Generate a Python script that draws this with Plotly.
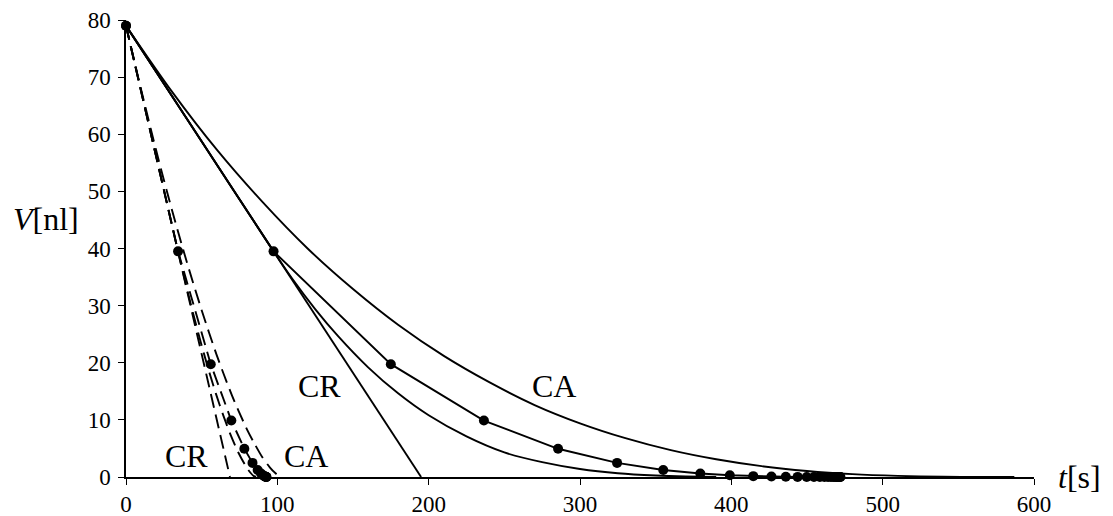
import plotly.graph_objects as go

# --- constant-area-flux model (solid lines) ---
cr_t = [0, 195]
cr_v = [79.0, 0.0]

ca_t = [0, 30, 60, 90, 120, 150, 180, 210, 240, 270, 300, 330, 360, 390, 420, 450, 480, 510, 540, 565, 587]
ca_v = [79.0, 67.6, 57.3, 48.2, 40.0, 32.9, 26.6, 21.2, 16.6, 12.6, 9.4, 6.8, 4.7, 3.1, 1.9, 1.05, 0.5, 0.2, 0.05, 0.01, 0.0]

mix_t = [0, 48.75, 97.5, 110, 125, 140, 160, 180, 200, 225, 250, 275, 300, 325, 350, 370, 390]
mix_v = [79.0, 59.25, 39.5, 34.65, 29.4, 24.7, 19.2, 14.6, 10.8, 7.1, 4.3, 2.6, 1.4, 0.65, 0.25, 0.08, 0.0]

ss_t = [0, 97.5, 175.0, 236.5, 285.5, 324.5, 355.0, 379.5, 399.0, 414.5, 426.5, 436.0, 443.8, 449.8, 454.6, 458.5, 461.5, 463.9, 465.8, 467.3, 468.5, 469.5, 470.3, 470.9, 471.4, 471.8, 472.1]
ss_v = [79.0, 39.5, 19.75, 9.88, 4.94, 2.47, 1.23, 0.62, 0.31, 0.15, 0.08, 0.04, 0.02, 0.01, 0.005, 0.002, 0.001, 0, 0, 0, 0, 0, 0, 0, 0, 0, 0]

# --- diffusion-limited model (dashed lines) ---
dcr_t = [0, 68.7]
dcr_v = [79.0, 0.0]

dca_t = [0, 10, 20, 30, 40, 50, 60, 70, 80, 85, 90, 95, 99, 101, 103]
dca_v = [79.0, 67.8, 57.1, 47.1, 37.8, 29.2, 21.3, 14.3, 8.3, 5.8, 3.5, 1.7, 0.6, 0.2, 0.0]

dmix_t = [0, 17.2, 34.4, 39.4, 44.4, 49.4, 54.4, 59.4, 64.4, 69.4, 74.4, 79.4, 82.4, 84.5, 85.9]
dmix_v = [79.0, 59.25, 39.5, 33.9, 28.6, 23.6, 18.9, 14.6, 10.7, 7.2, 4.2, 1.8, 0.7, 0.15, 0.0]

dss_t = [0, 34.4, 56.0, 69.6, 78.2, 83.6, 87.0, 89.2, 90.5, 91.4, 91.9, 92.3, 92.5, 92.7, 92.8]
dss_v = [79.0, 39.5, 19.75, 9.88, 4.94, 2.47, 1.23, 0.62, 0.31, 0.15, 0.08, 0.04, 0.02, 0.01, 0.0]

x_ticks = [0, 100, 200, 300, 400, 500, 600]
y_ticks = [0, 10, 20, 30, 40, 50, 60, 70, 80]

# annotation positions (data units)
labels = [("CR", 128, 16.0), ("CA", 283, 16.0), ("CR", 40, 3.6), ("CA", 119, 3.6)]

SERIF = "Liberation Serif"
BLACK = "black"
DASH = "14px,7px"
LW = 1.9

fig = go.Figure()


def curve(t, v, dash="solid", markers=False, shape="spline"):
    fig.add_trace(go.Scatter(
        x=t, y=v,
        mode="lines+markers" if markers else "lines",
        line=dict(color=BLACK, width=LW, dash=dash, shape=shape, smoothing=0.8 if shape == "spline" else None),
        marker=dict(color=BLACK, size=10),
        cliponaxis=False,
        showlegend=False,
        hoverinfo="skip",
    ))


curve(cr_t, cr_v, shape="linear")
curve(ca_t, ca_v)
curve(mix_t, mix_v)
curve(ss_t, ss_v, markers=True, shape="linear")

curve(dcr_t, dcr_v, dash=DASH, shape="linear")
curve(dca_t, dca_v, dash=DASH)
curve(dmix_t, dmix_v, dash=DASH)
curve(dss_t, dss_v, dash=DASH, markers=True, shape="linear")

for txt, tx, ty in labels:
    fig.add_annotation(x=tx, y=ty, text=txt, showarrow=False,
                       font=dict(family=SERIF, size=32, color=BLACK))

fig.add_annotation(xref="paper", yref="paper", x=-0.088, y=0.565, text="<i>V</i>[nl]",
                   showarrow=False, xanchor="center", yanchor="middle",
                   font=dict(family=SERIF, size=32, color=BLACK))
fig.add_annotation(xref="paper", yref="paper", x=1.05, y=0.0, text="<i>t</i>[s]",
                   showarrow=False, xanchor="center", yanchor="middle",
                   font=dict(family=SERIF, size=32, color=BLACK))

axis_common = dict(
    showline=True, linecolor=BLACK, linewidth=1.5,
    ticks="outside", ticklen=6, tickwidth=1.3, tickcolor=BLACK,
    showgrid=False, zeroline=False, automargin=False,
    tickfont=dict(family=SERIF, size=23, color=BLACK),
)

fig.update_xaxes(range=[0, 600], tickvals=x_ticks, ticktext=[str(v) for v in x_ticks], **axis_common)
fig.update_yaxes(range=[0, 80], tickvals=y_ticks, ticktext=[str(v) for v in y_ticks], ticklabelstandoff=3, **axis_common)

fig.update_layout(
    width=1113, height=516,
    margin=dict(l=126, r=79, t=20, b=39),
    plot_bgcolor="white", paper_bgcolor="white",
)

fig.write_html("out.html")
